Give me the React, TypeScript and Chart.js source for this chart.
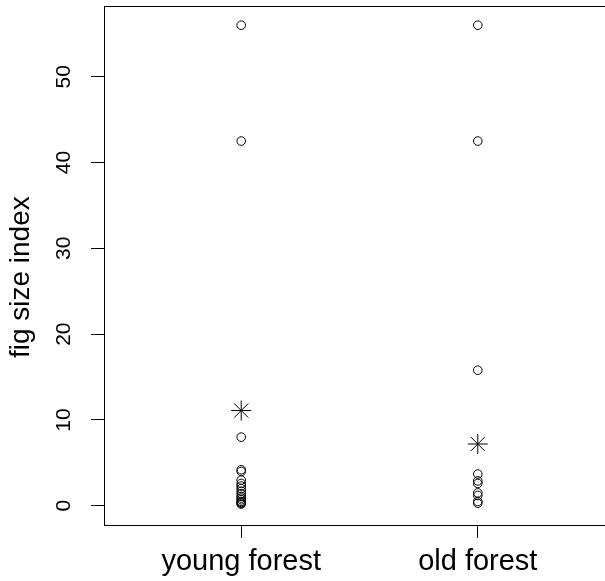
import React, { useEffect, useRef } from "react";
import { Chart, registerables } from "chart.js";

Chart.register(...registerables);

const categories = ["young forest", "old forest"];
const youngValues = [56, 42.5, 8, 4.2, 4.0, 3.0, 2.6, 2.3, 2.0, 1.7, 1.4, 1.1, 0.9, 0.7, 0.5, 0.4, 0.3, 0.2];
const oldValues = [56, 42.5, 15.8, 3.7, 2.9, 2.6, 1.5, 1.2, 0.5, 0.3];
const starValues = [11.1, 7.2];
const yTicks = [0, 10, 20, 30, 40, 50];

const FONT = "'Liberation Sans', Arial, sans-serif";

const zeroPad = (s: any) => {
  s.paddingTop = 0;
  s.paddingBottom = 0;
  s.paddingLeft = 0;
  s.paddingRight = 0;
};

export default function App() {
  const ref = useRef<HTMLCanvasElement | null>(null);
  useEffect(() => {
    if (!ref.current) return;
    const chart = new Chart(ref.current, {
      type: "scatter",
      data: {
        datasets: [
          {
            data: youngValues.map((v) => ({ x: 1, y: v })),
            pointStyle: "circle",
            pointRadius: 4.3,
            borderColor: "#000",
            backgroundColor: "rgba(0,0,0,0)",
            borderWidth: 1,
          },
          {
            data: oldValues.map((v) => ({ x: 2, y: v })),
            pointStyle: "circle",
            pointRadius: 4.3,
            borderColor: "#000",
            backgroundColor: "rgba(0,0,0,0)",
            borderWidth: 1,
          },
          {
            data: starValues.map((v, i) => ({ x: i + 1, y: v })),
            pointStyle: "star",
            pointRadius: 10,
            borderColor: "#000",
            backgroundColor: "rgba(0,0,0,0)",
            borderWidth: 1,
          },
        ],
      },
      options: {
        animation: false,
        responsive: false,
        devicePixelRatio: 1,
        layout: { autoPadding: false, padding: { top: 6, right: 0, left: 0, bottom: 0 } },
        plugins: { legend: { display: false }, tooltip: { enabled: false } },
        scales: {
          x: {
            type: "linear",
            position: "bottom",
            min: 0.42,
            max: 2.58,
            afterBuildTicks: (s: any) => {
              s.ticks = categories.map((_, i) => ({ value: i + 1 }));
            },
            afterFit: (s: any) => {
              s.height = 56;
              zeroPad(s);
            },
            grid: { drawOnChartArea: false, tickLength: 13, color: "#000", lineWidth: 1 },
            border: { display: true, color: "#000", width: 1 },
            ticks: {
              autoSkip: false,
              maxRotation: 0,
              padding: 7,
              color: "#000",
              font: { family: FONT, size: 29 },
              callback: (v: any) => categories[Math.round(Number(v)) - 1] ?? "",
            },
          },
          x2: {
            type: "linear",
            position: "top",
            min: 0.42,
            max: 2.58,
            afterFit: (s: any) => {
              s.height = 0;
              zeroPad(s);
            },
            grid: { display: false, drawTicks: false },
            border: { display: true, color: "#000", width: 1 },
            ticks: { display: false },
          },
          y: {
            type: "linear",
            min: -2.24,
            max: 58.24,
            afterBuildTicks: (s: any) => {
              s.ticks = yTicks.map((v) => ({ value: v }));
            },
            afterFit: (s: any) => {
              s.width = 104;
              zeroPad(s);
            },
            grid: { drawOnChartArea: false, tickLength: 13, color: "#000", lineWidth: 1 },
            border: { display: true, color: "#000", width: 1 },
            ticks: {
              minRotation: 90,
              maxRotation: 90,
              crossAlign: "center",
              padding: 15,
              color: "#000",
              font: { family: FONT, size: 21 },
            },
            title: {
              display: true,
              text: "fig size index   ",
              color: "#000",
              font: { family: FONT, size: 28 },
              padding: { top: 4, bottom: 0 },
            },
          },
        },
      },
    });
    return () => chart.destroy();
  }, []);
  return (
    <div style={{ position: "absolute", left: 0, top: 0, width: 605, height: 581, overflow: "hidden", background: "#fff" }}>
      <canvas ref={ref} width={615} height={581} style={{ width: 615, height: 581, display: "block" }} />
    </div>
  );
}
